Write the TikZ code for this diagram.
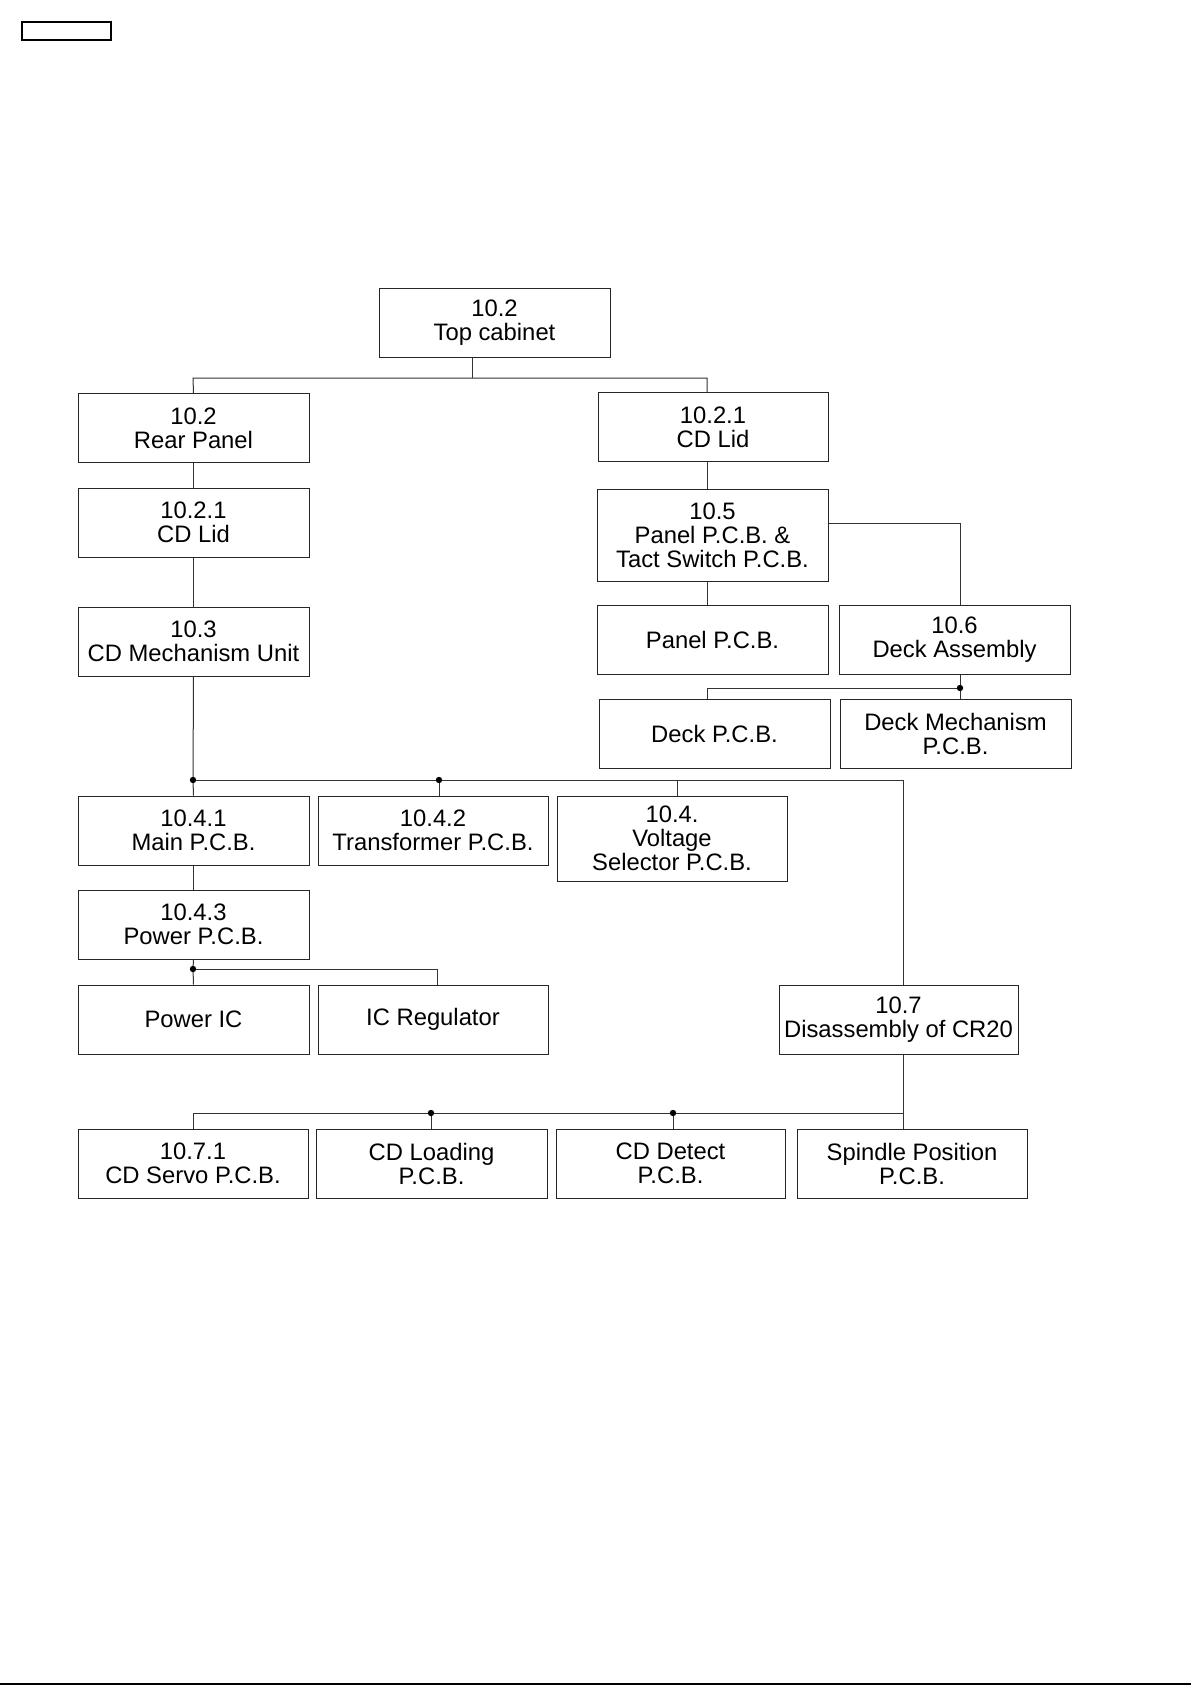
\documentclass[tikz,border=0pt]{standalone}
\usepackage{fontspec}
\setmainfont{Liberation Sans}
\begin{document}
\begin{tikzpicture}[x=0.5pt,y=-0.5pt,
  box/.style={draw=black!85, line width=0.5pt, inner sep=0pt, align=center,
    minimum width=115.5pt, minimum height=34.5pt, font=\fontsize{11.9}{12}\selectfont},
  con/.style={draw=black!80, line width=0.5pt},
  dot/.style={circle, fill=black, inner sep=0pt, minimum size=3.2pt}]
\useasboundingbox (0,0) rectangle (1191,1685);
\fill[white] (0,0) rectangle (1191,1685);
% tag rectangle and bottom rule
\node[draw, line width=0.6pt, inner sep=0pt, minimum width=44.5pt, minimum height=9pt] (tag) at (66.5,31) {};
\draw[line width=0.8pt] (0,1684) -- (1191,1684);

% boxes
\node[box] (top) at (494.5,322.5) {10.2\\Top cabinet};
\node[box] (rear) at (193.5,428) {10.2\\Rear Panel};
\node[box] (lidL) at (193.5,522.5) {10.2.1\\CD Lid};
\node[box] (mech) at (193.5,641.5) {10.3\\CD Mechanism Unit};
\node[box, minimum width=115pt] (lidR) at (713,427) {10.2.1\\CD Lid};
\node[box, minimum height=46pt] (tact) at (712.5,535) {10.5\\Panel P.C.B. \&\\Tact Switch P.C.B.};
\node[box] (panel) at (712.5,639.5) {Panel P.C.B.};
\node[box] (deckasm) at (954.5,639.5) {10.6\\Deck Assembly};
\node[box] (deckpcb) at (714.5,733.5) {Deck P.C.B.};
\node[box] (deckmech) at (955.5,733.5) {Deck Mechanism\\P.C.B.};
\node[box] (main) at (193.5,830.5) {10.4.1\\Main P.C.B.};
\node[box, minimum width=115pt] (trans) at (433,830.5) {10.4.2\\Transformer P.C.B.};
\node[box, minimum width=115pt, minimum height=42.5pt] (volt) at (672,838.5) {10.4.\\Voltage\\Selector P.C.B.};
\node[box] (power) at (193.5,924.5) {10.4.3\\Power P.C.B.};
\node[box] (pwric) at (193.5,1019.5) {Power IC};
\node[box, minimum width=115pt] (icreg) at (433,1019.5) {IC Regulator};
\node[box, minimum width=119.5pt] (dis) at (898.5,1019.5) {10.7\\Disassembly of CR20};
\node[box, minimum width=115pt] (servo) at (193,1163.5) {10.7.1\\CD Servo P.C.B.};
\node[box] (load) at (431.5,1163.5) {CD Loading\\P.C.B.};
\node[box, minimum width=114.5pt] (detect) at (670.5,1163.5) {CD Detect\\P.C.B.};
\node[box, minimum width=115pt] (spindle) at (912,1163.5) {Spindle Position\\P.C.B.};

% junction coordinates
\coordinate (jt) at (472,378);
\coordinate (jr) at (707,378);
\coordinate (jl) at (193,378);
\coordinate (jd) at (960,688);
\coordinate (jdl) at (707,688);
\coordinate (jt2) at (960,523);
\coordinate (jm) at (193,780);
\coordinate (jtr) at (439,780);
\coordinate (jv) at (677,780);
\coordinate (jdis) at (903,780);
\coordinate (jp) at (193,969);
\coordinate (jic) at (437,969);
\coordinate (jb) at (903,1113);
\coordinate (jb1) at (193,1113);
\coordinate (jb2) at (431,1113);
\coordinate (jb3) at (673,1113);

% connectors
\draw[con] (jt |- top.south) -- (jt);
\draw[con] (rear.north) -- (jl) -- (jr) -- (jr |- lidR.north);
\draw[con] (rear.south) -- (lidL.north);
\draw[con] (lidL.south) -- (mech.north);
\draw[con] (jr |- lidR.south) -- (jr |- tact.north);
\draw[con] (tact.east |- jt2) -- (jt2) -- (jt2 |- deckasm.north);
\draw[con] (jr |- tact.south) -- (jr |- panel.north);
\draw[con] (jd |- deckasm.south) -- (jd) -- (jd |- deckmech.north);
\draw[con] (jd) -- (jdl) -- (jdl |- deckpcb.north);
\draw[con] (mech.south) -- (jm) -- (main.north);
\draw[con] (jm) -- (jdis) -- (jdis |- dis.north);
\draw[con] (jtr) -- (jtr |- trans.north);
\draw[con] (jv) -- (jv |- volt.north);
\draw[con] (main.south) -- (power.north);
\draw[con] (power.south) -- (jp) -- (pwric.north);
\draw[con] (jp) -- (jic) -- (jic |- icreg.north);
\draw[con] (jb |- dis.south) -- (jb) -- (jb1) -- (servo.north);
\draw[con] (jb2) -- (jb2 |- load.north);
\draw[con] (jb3) -- (jb3 |- detect.north);
\draw[con] (jb) -- (jb |- spindle.north);

% dots
\node[dot] (d1) at (jd) {};
\node[dot] (d2) at (jm) {};
\node[dot] (d3) at (jtr) {};
\node[dot] (d4) at (jp) {};
\node[dot] (d5) at (jb2) {};
\node[dot] (d6) at (jb3) {};
\end{tikzpicture}
\end{document}
